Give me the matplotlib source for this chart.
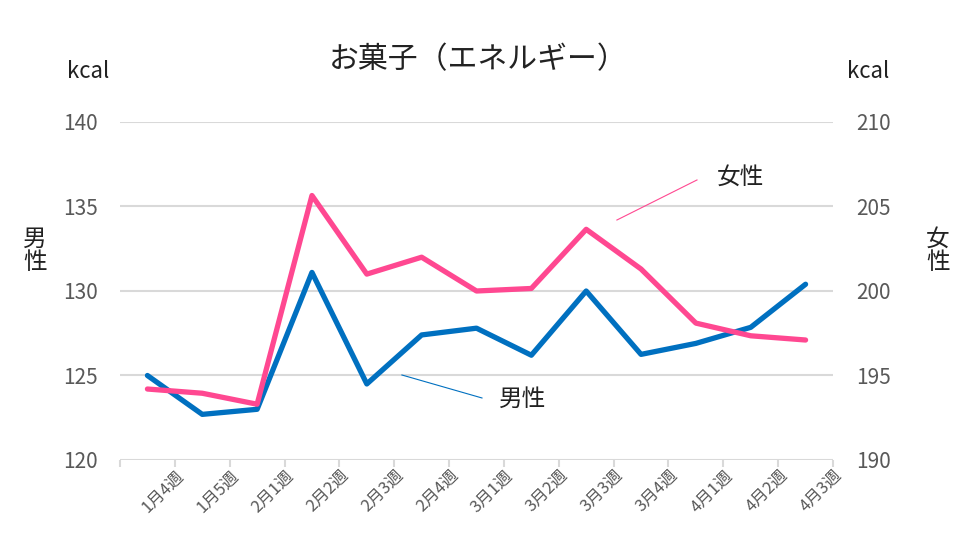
import matplotlib
matplotlib.use("Agg")
import matplotlib.pyplot as plt
import matplotlib.transforms as mtransforms
import numpy as np

plt.rcParams['font.family'] = ['Noto Sans CJK JP', 'DejaVu Sans']

weeks = ["1月4週", "1月5週", "2月1週", "2月2週", "2月3週", "2月4週", "3月1週",
         "3月2週", "3月3週", "3月4週", "4月1週", "4月2週", "4月3週"]
male = [125.0, 122.7, 123.0, 131.1, 124.5, 127.4, 127.8, 126.2, 130.0, 126.25, 126.9, 127.85, 130.4]
female = [194.2, 193.95, 193.3, 205.65, 201.0, 202.0, 200.0, 200.15, 203.65, 201.3, 198.1, 197.35, 197.1]
left_ticks = [120, 125, 130, 135, 140]
right_ticks = [190, 195, 200, 205, 210]

blue = "#0070C0"
pink = "#FF4891"
gray = "#595959"
grid = "#D9D9D9"

fig = plt.figure(figsize=(9.76, 5.55), dpi=100)
ax = fig.add_axes([120/976, 1-460/555, (833-120)/976, (460-122)/555])
ax2 = ax.twinx()

x = np.arange(len(weeks))
ax.set_xlim(-0.5, len(weeks)-0.5)
ax.set_ylim(left_ticks[0], left_ticks[-1])
ax2.set_ylim(right_ticks[0], right_ticks[-1])

for v in left_ticks:
    ax.axhline(v, color=grid, lw=1.5, zorder=0)

ax.plot(x, male, color=blue, lw=3.8, solid_joinstyle='round', solid_capstyle='round', zorder=3)
ax2.plot(x, female, color=pink, lw=3.8, solid_joinstyle='round', solid_capstyle='round', zorder=3)

for a in (ax, ax2):
    for s in a.spines.values():
        s.set_visible(False)

ax.set_yticks(left_ticks)
ax2.set_yticks(right_ticks)
ax.tick_params(axis='y', length=0, pad=16, labelsize=15, labelcolor=gray)
ax2.tick_params(axis='y', length=0, pad=17, labelsize=15, labelcolor=gray)

ax.set_xticks(x)
ax.set_xticks(np.arange(-0.5, len(weeks), 1.0), minor=True)
ax.tick_params(axis='x', which='major', length=0, pad=2)
ax.tick_params(axis='x', which='minor', length=5, color=grid, width=1.5)
ax.set_xticklabels(weeks, rotation=45, ha='right', rotation_mode='anchor',
                   fontsize=12, color=gray)
offset = mtransforms.ScaledTranslation(28/100, -4/100, fig.dpi_scale_trans)
for lbl in ax.get_xticklabels():
    lbl.set_transform(lbl.get_transform() + offset)

fig.text(478/976, 1-60/555, "お菓子（エネルギー）", ha='center', va='center', fontsize=21.5, color='#222222')
fig.text(88/976, 1-72/555, "kcal", ha='center', va='center', fontsize=16, color='#222222')
fig.text(868/976, 1-72/555, "kcal", ha='center', va='center', fontsize=16, color='#222222')
fig.text(35/976, 1-251/555, "男\n性", ha='center', va='center', fontsize=17, color='#222222', linespacing=1.0)
fig.text(938/976, 1-251/555, "女\n性", ha='center', va='center', fontsize=17, color='#222222', linespacing=1.0)

ax2.plot([8.56, 10.02], [204.2, 206.57], color=pink, lw=0.8, zorder=2)
ax2.text(10.38, 206.75, "女性", ha='left', va='center', fontsize=17, color='#222222')
ax.plot([4.64, 6.1], [125.03, 123.67], color=blue, lw=0.8, zorder=2)
ax.text(6.41, 123.6, "男性", ha='left', va='center', fontsize=17, color='#222222')

fig.savefig("out.png", dpi=100)
